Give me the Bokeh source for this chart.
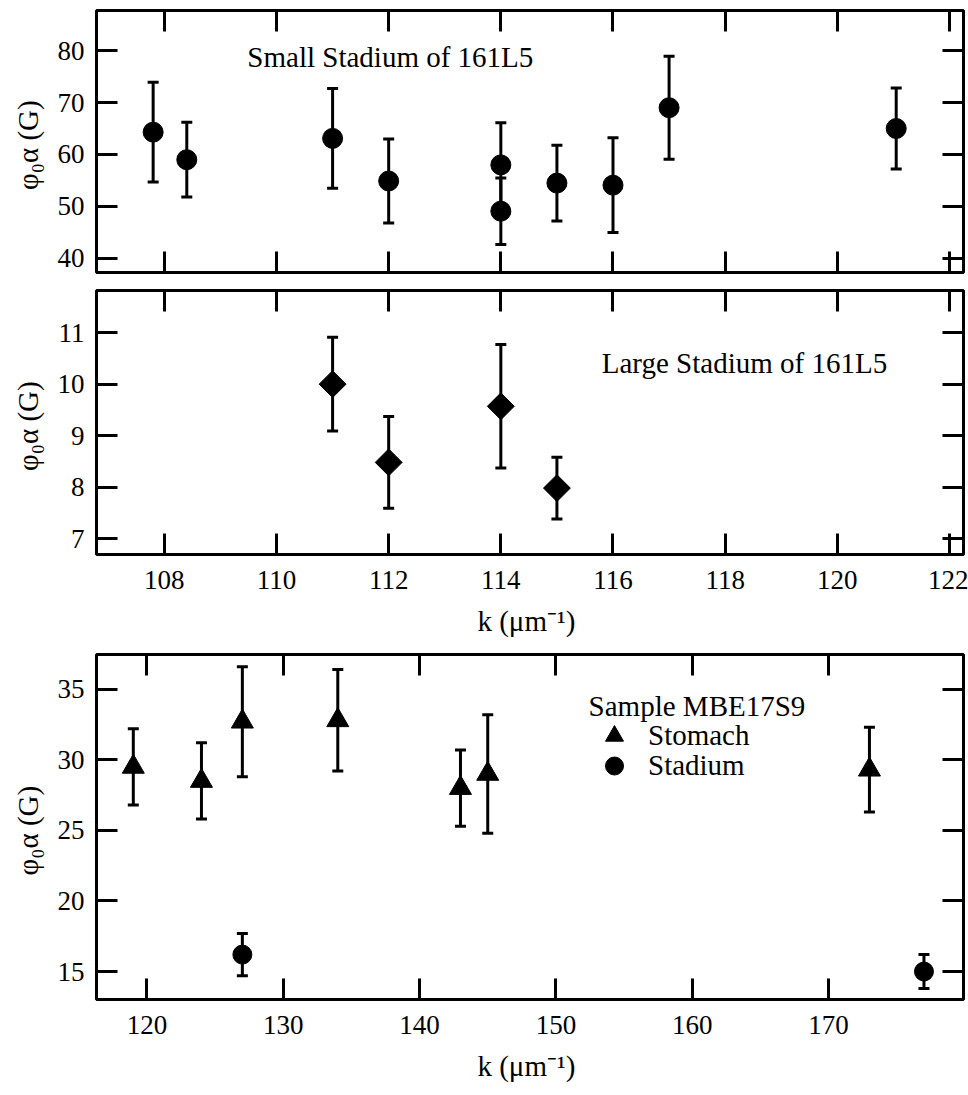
import math
from bokeh.plotting import figure
from bokeh.layouts import column
from bokeh.models import (Range1d, LinearAxis, FixedTicker, CustomJSTickFormatter,
                          Whisker, TeeHead, ColumnDataSource, Label, Legend, LegendItem)
from bokeh.embed import file_html
from bokeh.resources import INLINE

# ---------------- data ----------------
# Panel 1: Small Stadium of 161L5
k_small = [107.8, 108.4, 111.0, 112.0, 114.0, 114.0, 115.0, 116.0, 117.0, 121.05]
phi_small = [64.3, 59.0, 63.1, 54.9, 58.0, 49.1, 54.5, 54.1, 69.0, 65.0]
err_small = [9.6, 7.2, 9.6, 8.1, 8.1, 6.4, 7.3, 9.1, 9.9, 7.8]

# Panel 2: Large Stadium of 161L5
k_large = [111.0, 112.0, 114.0, 115.0]
phi_large = [10.0, 8.48, 9.57, 7.98]
err_large = [0.91, 0.89, 1.2, 0.6]

# Panel 3: Sample MBE17S9
k_stomach = [119, 124, 127, 134, 143, 145, 173]
phi_stomach = [29.5, 28.5, 32.7, 32.8, 28.0, 29.0, 29.3]
err_stomach = [2.7, 2.7, 3.9, 3.6, 2.7, 4.2, 3.0]
k_stadium = [127, 177]
phi_stadium = [16.2, 15.0]
err_stadium = [1.5, 1.2]

xticks_top = [108, 110, 112, 114, 116, 118, 120, 122]
yticks_1 = [40, 50, 60, 70, 80]
yticks_2 = [7, 8, 9, 10, 11]
xticks_bottom = [120, 130, 140, 150, 160, 170]
yticks_3 = [15, 20, 25, 30, 35]

FONT = "Liberation Serif"
YLABEL = "φ₀α  (G)"
XLABEL = "k  (μm⁻¹)"


def blank_axis(ticks):
    ax = LinearAxis(ticker=FixedTicker(ticks=ticks),
                    formatter=CustomJSTickFormatter(code="return ''"))
    ax.major_label_text_font_size = "0px"
    ax.major_label_standoff = 0
    ax.axis_line_color = None
    ax.major_tick_in = 21
    ax.major_tick_out = 0
    ax.major_tick_line_width = 3
    ax.minor_tick_line_color = None
    return ax


def style_main(ax, ticks, label, lab_standoff, title_standoff):
    ax.ticker = FixedTicker(ticks=ticks)
    ax.axis_line_color = None
    ax.major_tick_in = 21
    ax.major_tick_out = 0
    ax.major_tick_line_width = 3
    ax.minor_tick_line_color = None
    ax.major_label_text_font = FONT
    ax.major_label_text_font_size = "27px"
    ax.major_label_text_color = "black"
    ax.major_label_standoff = lab_standoff
    ax.axis_label = label
    ax.axis_label_text_font = FONT
    ax.axis_label_text_font_size = "29px"
    ax.axis_label_text_font_style = "normal"
    ax.axis_label_text_color = "black"
    ax.axis_label_standoff = title_standoff


def make_fig(xr, yr, fh, top, bottom, xt, yt, xlabel_on):
    p = figure(frame_width=867, frame_height=fh,
               x_range=Range1d(*xr), y_range=Range1d(*yr),
               min_border_left=96, min_border_right=5,
               min_border_top=top, min_border_bottom=bottom,
               output_backend="svg", toolbar_location=None)
    p.grid.visible = False
    p.outline_line_color = "black"
    p.outline_line_width = 3
    p.outline_line_alpha = 1
    p.background_fill_color = "white"
    p.border_fill_color = "white"
    style_main(p.yaxis[0], yt, YLABEL, 12, 11)
    if xlabel_on:
        style_main(p.xaxis[0], xt, XLABEL, 16, 13)
    else:
        ax = p.xaxis[0]
        ax.ticker = FixedTicker(ticks=xt)
        ax.formatter = CustomJSTickFormatter(code="return ''")
        ax.major_label_text_font_size = "0px"
        ax.major_label_standoff = 0
        ax.axis_line_color = None
        ax.major_tick_in = 21
        ax.major_tick_out = 0
        ax.major_tick_line_width = 3
        ax.minor_tick_line_color = None
    p.add_layout(blank_axis(xt), "above")
    p.add_layout(blank_axis(yt), "right")
    return p


def add_errors(p, xs, ys, es):
    src = ColumnDataSource(dict(x=xs, y=ys,
                                up=[y + e for y, e in zip(ys, es)],
                                lo=[y - e for y, e in zip(ys, es)]))
    w = Whisker(source=src, base="x", upper="up", lower="lo",
                line_color="black", line_width=3,
                upper_head=TeeHead(size=11, line_width=3, line_color="black"),
                lower_head=TeeHead(size=11, line_width=3, line_color="black"))
    p.add_layout(w)
    return src


def legend_for(renderer, label, loc):
    return Legend(items=[LegendItem(label=label, renderers=[renderer])],
                  location=loc,
                  label_text_font=FONT, label_text_font_size="29px",
                  label_text_color="black",
                  border_line_color=None, background_fill_alpha=0,
                  padding=0, margin=0, spacing=0,
                  glyph_width=52, glyph_height=45, label_standoff=8,
                  label_height=20)


# ---------------- panel 1 ----------------
p1 = make_fig((106.79, 122.25), (37.3, 87.7), 262, 10, 8, xticks_top, yticks_1, False)
s1 = add_errors(p1, k_small, phi_small, err_small)
p1.scatter("x", "y", source=s1, marker="circle", size=20, color="black")
p1.add_layout(Label(x=109.48, y=78.8, text="Small Stadium of 161L5",
                    text_font=FONT, text_font_size="29px", text_baseline="middle",
                    text_align="left", text_color="black"))

# ---------------- panel 2 ----------------
p2 = make_fig((106.79, 122.25), (6.69, 11.82), 264, 10, 90, xticks_top, yticks_2, True)
s2 = add_errors(p2, k_large, phi_large, err_large)
p2.scatter("x", "y", source=s2, marker="square", angle=math.pi / 4, size=19, color="black")
p2.add_layout(Label(x=115.8, y=10.42, text="Large Stadium of 161L5",
                    text_font=FONT, text_font_size="29px", text_baseline="middle",
                    text_align="left", text_color="black"))

# ---------------- panel 3 ----------------
p3 = make_fig((116.3, 179.9), (13.02, 37.46), 345, 10, 96, xticks_bottom, yticks_3, True)
s3a = add_errors(p3, k_stomach, phi_stomach, err_stomach)
s3b = add_errors(p3, k_stadium, phi_stadium, err_stadium)
r_tri = p3.scatter("x", "y", source=s3a, marker="triangle", size=22, color="black")
r_cir = p3.scatter("x", "y", source=s3b, marker="circle", size=19, color="black")

p3.add_layout(Label(x=152.4, y=33.84, text="Sample MBE17S9",
                    text_font=FONT, text_font_size="29px", text_baseline="middle",
                    text_align="left", text_color="black"))
p3.add_layout(legend_for(r_tri, "Stomach", (492, 241)))
p3.add_layout(legend_for(r_cir, "Stadium", (492, 211)))

layout = column(p1, p2, p3, spacing=0)
open("out.html", "w").write(file_html(layout, INLINE))
